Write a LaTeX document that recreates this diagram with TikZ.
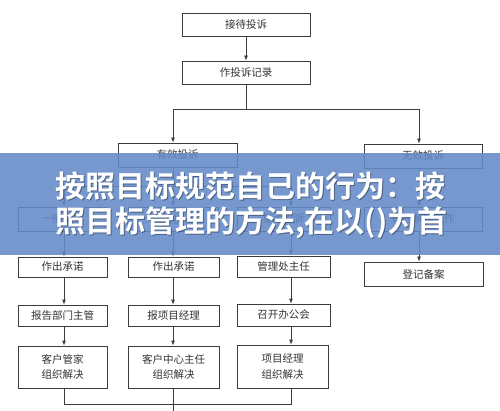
\documentclass[tikz,border=0pt]{standalone}
\usepackage{fontspec}
\usetikzlibrary{arrows.meta}
\newfontfamily\cjk[BoldFont={Noto Sans CJK SC Bold}]{Noto Sans CJK SC}
\definecolor{boxline}{HTML}{3C3C3C}
\definecolor{boxtext}{HTML}{333333}
\definecolor{banner}{RGB}{100,138,200}
\begin{document}
\begin{tikzpicture}[x=1pt,y=-1pt,
  box/.style={draw=boxline,line width=0.8pt,fill=white,inner sep=0pt,align=center,
    font=\cjk\fontsize{10.5}{15.5}\selectfont,text=boxtext},
  conn/.style={draw=boxline,line width=0.8pt},
  arr/.style={conn,-{Latex[length=5pt,width=4pt]}},
  bantext/.style={anchor=west,inner sep=0pt,text=white,font=\cjk\bfseries\fontsize{30}{30}\selectfont},
  banshadow/.style={bantext,text=black,text opacity=0.35}]
\useasboundingbox (0,0) rectangle (500,411);
\fill[white] (0,0) rectangle (500,411);
% column coordinates
\coordinate (k1) at (64,0);
\coordinate (k2) at (173,0);
\coordinate (k3) at (291,0);
\coordinate (k4) at (419,0);
\coordinate (top) at (0,109);
\coordinate (br) at (0,186);
\coordinate (bot) at (0,404);
\coordinate (endc) at (173,412);
% nodes
\node[box,minimum width=128pt,minimum height=23pt] (a) at (246,24.5) {接待投诉};
\node[box,minimum width=128pt,minimum height=23pt] (b) at (246,72.5) {作投诉记录};
\node[box,minimum width=119pt,minimum height=24pt] (c) at (177.5,155) {有效投诉};
\node[box,minimum width=118pt,minimum height=24pt] (d) at (423,156) {无效投诉};
\node[box,minimum width=89pt,minimum height=24pt] (e1) at (62.5,219) {一般投诉};
\node[box,minimum width=90pt,minimum height=24pt] (e2) at (173,219) {较大投诉};
\node[box,minimum width=93pt,minimum height=24pt] (e3) at (283.5,219) {重大投诉};
\node[box,minimum width=118pt,minimum height=24pt] (e4) at (423,219) {做好解释工作};
\node[box,minimum width=89pt,minimum height=20pt] (f1) at (62.5,267) {作出承诺};
\node[box,minimum width=91pt,minimum height=20pt] (f2) at (173.5,267) {作出承诺};
\node[box,minimum width=93pt,minimum height=21pt] (f3) at (283.5,266.5) {管理处主任};
\node[box,minimum width=119pt,minimum height=24pt] (g4) at (423.5,274) {登记备案};
\node[box,minimum width=89pt,minimum height=21pt] (h1) at (62.5,315.5) {报告部门主管};
\node[box,minimum width=91pt,minimum height=21pt] (h2) at (173.5,315.5) {报项目经理};
\node[box,minimum width=93pt,minimum height=22pt] (h3) at (283.5,315) {召开办公会};
\node[box,minimum width=89pt,minimum height=42pt] (i1) at (62.5,367) {客户管家\\组织解决};
\node[box,minimum width=91pt,minimum height=42pt] (i2) at (173.5,367) {客户中心主任\\组织解决};
\node[box,minimum width=91pt,minimum height=43pt] (i3) at (282.5,366.5) {项目经理\\组织解决};
% connectors
\draw[arr] (a) -- (b);
\draw[conn] (b.south) -- (b.south |- top);
\draw[conn] (top -| k2) -- (top -| k4);
\draw[arr] (top -| k2) -- (c.north -| k2);
\draw[arr] (top -| k4) -- (d.north -| k4);
\draw[conn] (c.south -| k2) -- (br -| k2);
\draw[conn] (br -| k1) -- (br -| k3);
\draw[arr] (br -| k1) -- (e1.north -| k1);
\draw[arr] (br -| k2) -- (e2.north -| k2);
\draw[arr] (br -| k3) -- (e3.north -| k3);
\draw[arr] (d.south -| k4) -- (e4.north -| k4);
\draw[arr] (e4.south -| k4) -- (g4.north -| k4);
\draw[arr] (e1.south -| k1) -- (f1.north -| k1);
\draw[arr] (e2.south -| k2) -- (f2.north -| k2);
\draw[arr] (e3.south -| k3) -- (f3.north -| k3);
\draw[arr] (f1.south -| k1) -- (h1.north -| k1);
\draw[arr] (f2.south -| k2) -- (h2.north -| k2);
\draw[arr] (f3.south -| k3) -- (h3.north -| k3);
\draw[arr] (h1.south -| k1) -- (i1.north -| k1);
\draw[arr] (h2.south -| k2) -- (i2.north -| k2);
\draw[arr] (h3.south -| k3) -- (i3.north -| k3);
\draw[conn] (i1.south -| k1) -- (bot -| k1) -- (bot -| k3) -- (i3.south -| k3);
\draw[conn] (i2.south -| k2) -- (endc);
% banner
\fill[banner,fill opacity=0.88] (0,153) rectangle (500,255);
\node[banshadow] (s1) at (56,187) {按照目标规范自己的行为：按};
\node[banshadow] (s2) at (56,224) {照目标管理的方法,在以()为首};
\node[bantext] (t1) at (55,186) {按照目标规范自己的行为：按};
\node[bantext] (t2) at (55,223) {照目标管理的方法,在以()为首};
\end{tikzpicture}
\end{document}
